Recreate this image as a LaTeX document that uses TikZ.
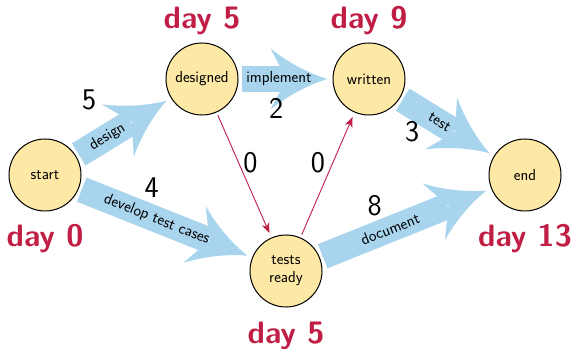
\documentclass[tikz,border=0pt]{standalone}
\usetikzlibrary{arrows.meta,positioning}
\definecolor{statefill}{RGB}{254,232,166}
\definecolor{taskblue}{RGB}{168,212,237}
\definecolor{daycol}{RGB}{193,30,70}
% wide head with hollow flanks for the task arrows
\pgfdeclarearrow{
  name = Swept,
  setup code = {
    \pgfarrowssettipend{0pt}
    \pgfarrowssetlineend{-42pt}
    \pgfarrowssetvisualbackend{-57pt}
    \pgfarrowssetbackend{-57pt}
    \pgfarrowshullpoint{0pt}{0pt}
    \pgfarrowsupperhullpoint{-57pt}{30.5pt}
  },
  drawing code = {
    \pgfsetfillcolor{taskblue}
    \pgfpathmoveto{\pgfqpoint{0pt}{0pt}}
    \pgfpathcurveto{\pgfqpoint{-20pt}{6pt}}{\pgfqpoint{-40pt}{17pt}}{\pgfqpoint{-57pt}{30.5pt}}
    \pgfpathlineto{\pgfqpoint{-41pt}{0pt}}
    \pgfpathlineto{\pgfqpoint{-57pt}{-30.5pt}}
    \pgfpathcurveto{\pgfqpoint{-40pt}{-17pt}}{\pgfqpoint{-20pt}{-6pt}}{\pgfqpoint{0pt}{0pt}}
    \pgfpathclose
    \pgfusepathqfill
  }
}
\begin{document}
\begin{tikzpicture}[x=1pt,y=1pt,
    state/.style={circle,draw,line width=1pt,fill=statefill,minimum size=72pt,
      inner sep=0pt,align=center,font=\sffamily\fontsize{16}{18}\selectfont},
    task/.style={draw=taskblue,line width=26pt,shorten <=3pt,shorten >=5pt,-{Swept}},
    dummy/.style={draw=daycol,line width=0.9pt,shorten <=3pt,shorten >=5pt,
      -{Stealth[length=10pt,width=8pt,inset=3pt]}},
    tasklbl/.style={sloped,inner sep=0pt,font=\sffamily\fontsize{16}{18}\selectfont},
    num/.style={inner sep=0pt,font=\sffamily\fontsize{30}{30}\selectfont},
    day/.style={inner sep=0pt,text=daycol,font=\sffamily\bfseries\fontsize{31}{31}\selectfont}]
      \useasboundingbox (0,0) rectangle (575,348);
      \draw
        (45,173) node[state] (start){start}
        (202,269) node[state] (designed){designed}
        (369,269) node[state] (written){written}
        (525,173) node[state] (end){end}
        (286,77) node[state] (tests){tests\\ready};
      \node[day,below=13pt of start] (day0){day 0};
      \node[day,above=7pt of designed] (day5a){day 5};
      \node[day,above=7pt of written] (day9){day 9};
      \node[day,below=13pt of end] (day13){day 13};
      \node[day,below=14pt of tests] (day5b){day 5};
      \begin{scope}[-]
        \draw[task] (start) to node[tasklbl,pos=.33] (l1){design}
          node[num,pos=.35,xshift=-20pt,yshift=36pt] (w1){5} (designed);
        \draw[task] (designed) to node[tasklbl,pos=.43] (l2){implement}
          node[num,pos=.4,yshift=-29pt] (w2){2} (written);
        \draw[task] (written) to node[tasklbl,pos=.42] (l3){test}
          node[num,pos=.3,xshift=-16pt,yshift=-16pt] (w3){3} (end);
        \draw[task] (start) to node[tasklbl,pos=.45] (l4){develop test cases}
          node[num,pos=.42,yshift=30pt] (w4){4} (tests);
        \draw[task] (tests) to node[tasklbl,pos=.41] (l5){document}
          node[num,pos=.32,yshift=30pt] (w5){8} (end);
        \draw[dummy] (designed) to node[num,pos=.4,xshift=12pt] (w6){0} (tests);
        \draw[dummy] (tests) to node[num,pos=.6,xshift=-15pt] (w7){0} (written);
      \end{scope}
    \end{tikzpicture}
\end{document}
